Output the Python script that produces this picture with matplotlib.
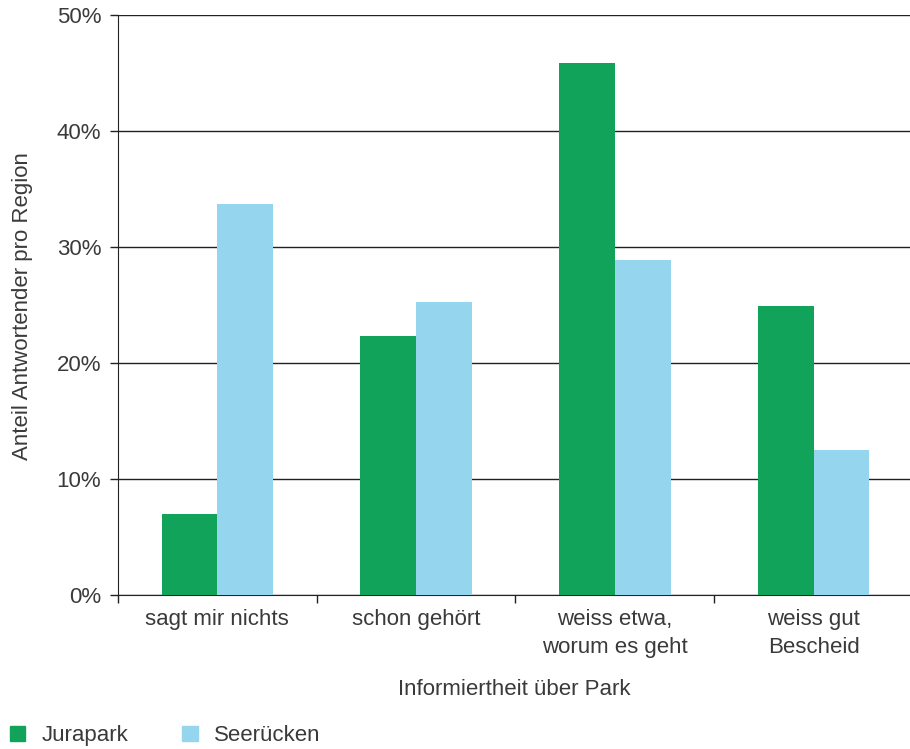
import matplotlib
matplotlib.use("Agg")
import matplotlib.pyplot as plt
import numpy as np
from matplotlib.patches import Patch

categories = ["sagt mir nichts", "schon gehört", "weiss etwa,\nworum es geht", "weiss gut\nBescheid"]
jurapark = [7.0, 22.3, 45.9, 24.9]
seeruecken = [33.7, 25.3, 28.9, 12.5]
series_names = ["Jurapark", "Seerücken"]
yticks = [0, 10, 20, 30, 40, 50]

green = "#12A35A"
blue = "#96D5EE"
txt = "#3a3a3a"
fs = 16

plt.rcParams['font.family'] = ['Liberation Sans', 'DejaVu Sans']

fig = plt.figure(figsize=(9.10, 7.49), dpi=100)
ax = fig.add_axes([118/910, 1-595/749, (910-118)/910, (595-15)/749])

x = np.arange(len(categories))
w = 0.28
ax.bar(x - w/2, jurapark, w, color=green, zorder=3)
ax.bar(x + w/2, seeruecken, w, color=blue, zorder=3)

ax.set_xlim(-0.5, len(categories) - 0.5 + (910-117)/199 - 4)
ax.set_ylim(0, 50)
ax.set_yticks(yticks)
ax.set_yticklabels([f"{v}%" for v in yticks], fontsize=fs, color=txt)
for v in yticks:
    ax.axhline(v, color="#222222", lw=1.0, zorder=1)

ax.set_xticks(np.arange(len(categories)) - 0.5)
ax.set_xticklabels([])
ax.tick_params(axis='x', which='major', length=6, width=1, color="#222222", direction='out')
ax.set_xticks(x, minor=True)
ax.set_xticklabels(categories, minor=True, fontsize=fs, color=txt, linespacing=1.45)
ax.tick_params(axis='x', which='minor', length=0, pad=10)
ax.tick_params(axis='y', length=6, width=1, color="#222222", pad=6)

for s in ["top", "right"]:
    ax.spines[s].set_visible(False)
ax.spines["left"].set_color("#222222")
ax.spines["bottom"].set_color("#222222")

ax.set_xlabel("Informiertheit über Park", fontsize=fs, color=txt, labelpad=15)
fig.text(23/910, 1-306/749, "Anteil Antwortender pro Region", rotation=90, fontsize=fs,
         color=txt, ha="center", va="center")

handles = [Patch(color=green), Patch(color=blue)]
leg = fig.legend(handles, series_names, loc="lower left", bbox_to_anchor=(0.0045, -0.004),
                 ncol=2, frameon=False, fontsize=fs, handlelength=0.7, handleheight=0.7,
                 columnspacing=2.4, handletextpad=0.75, labelcolor=txt, borderaxespad=0.0,
                 borderpad=0.25)

fig.savefig("out.png", dpi=100)
